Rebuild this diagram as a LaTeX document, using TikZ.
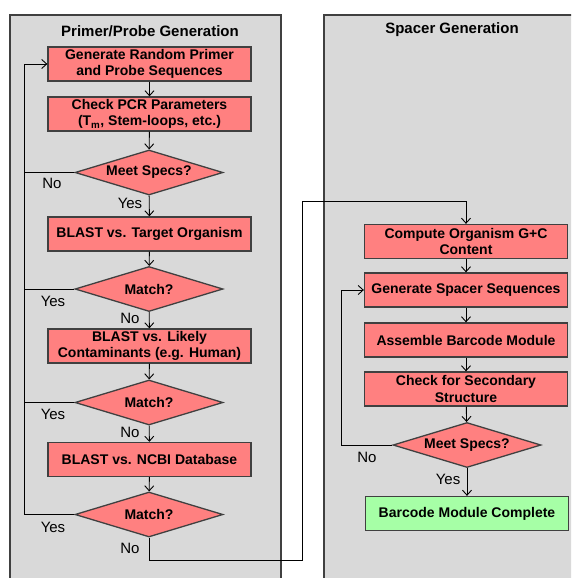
\documentclass[tikz,border=0pt]{standalone}
\usepackage{fontspec}
\setmainfont{Liberation Sans}
\usetikzlibrary{shapes.geometric,arrows.meta}
\definecolor{boxred}{HTML}{FF8080}
\definecolor{boxgreen}{HTML}{A6FFA6}
\definecolor{panelgray}{HTML}{D9D9D9}
\definecolor{edgegray}{HTML}{404040}
\tikzset{
  panel/.style={draw=edgegray, line width=1.3pt, fill=panelgray},
  ptitle/.style={font=\fontsize{15}{17}\selectfont\bfseries, inner sep=0pt},
  stepbox/.style={draw=edgegray, line width=1.3pt, fill=boxred, minimum width=203pt, minimum height=34pt, inner sep=1pt, align=center, font=\fontsize{14}{16.5}\selectfont\bfseries},
  endbox/.style={stepbox, fill=boxgreen},
  decide/.style={diamond, draw=edgegray, line width=1.3pt, fill=boxred, aspect=3.29, minimum width=148pt, minimum height=45pt, inner sep=0pt, font=\fontsize{14}{16.5}\selectfont\bfseries},
  lbl/.style={font=\fontsize{15}{17}\selectfont, inner sep=0pt},
  arr/.style={draw=black, line width=0.9pt, -{Straight Barb[length=5pt,width=9pt]}},
  ln/.style={draw=black, line width=0.9pt},
}
\begin{document}
\begin{tikzpicture}[x=1pt,y=-1pt]
\clip (0,0) rectangle (571,578);
\fill[white] (0,0) rectangle (571,578);
\draw[panel] (10,15) rectangle (281,600);
\draw[panel] (324,15) rectangle (600,600);
\node[ptitle] (t1) at (150,31) {Primer/Probe Generation};
\node[ptitle] (t2) at (452,30) {Spacer Generation};
% left column
\node[stepbox] (b1) at (149.5,64) {Generate Random Primer\\and Probe Sequences};
\node[stepbox] (b2) at (149.5,114) {Check PCR Parameters\\(T\textsubscript{m}, Stem-loops, etc.)};
\node[decide] (d1) at (149,172.5) {Meet Specs?};
\node[stepbox] (b3) at (149.5,234) {BLAST vs. Target Organism};
\node[decide] (d2) at (149,289) {Match?};
\node[stepbox] (b4) at (149.5,346) {BLAST vs. Likely\\Contaminants (e.g. Human)};
\node[decide] (d3) at (149,402.5) {Match?};
\node[stepbox] (b5) at (149.5,459.5) {BLAST vs. NCBI Database};
\node[decide] (d4) at (149,514.5) {Match?};
% right column
\node[stepbox] (b6) at (466,241.5) {Compute Organism G+C\\Content};
\node[stepbox] (b7) at (466,290) {Generate Spacer Sequences};
\node[stepbox] (b8) at (466,340) {Assemble Barcode Module};
\node[stepbox] (b9) at (466,389) {Check for Secondary\\Structure};
\node[decide] (d5) at (467,445) {Meet Specs?};
\node[endbox] (b10) at (467,513.5) {Barcode Module Complete};
% helper coordinates
\coordinate (lx) at (24,0);
\coordinate (p1) at (302,560);
\coordinate (p2) at (302,201);
\coordinate (p3) at (341,445);
% left arrows
\draw[arr] (b1) -- (b2);
\draw[arr] (b2) -- (d1);
\draw[arr] (d1) -- (b3);
\draw[arr] (b3) -- (d2);
\draw[arr] (d2) -- (b4);
\draw[arr] (b4) -- (d3);
\draw[arr] (d3) -- (b5);
\draw[arr] (b5) -- (d4);
\draw[arr] (d4.west) -- (d4.west -| lx) |- (b1.west);
\draw[ln] (d1.west) -- (d1.west -| lx);
\draw[ln] (d2.west) -- (d2.west -| lx);
\draw[ln] (d3.west) -- (d3.west -| lx);
\draw[arr] (d4.south) |- (p1) -- (p2) -| (b6.north);
% right arrows
\draw[arr] (b6) -- (b7);
\draw[arr] (b7) -- (b8);
\draw[arr] (b8) -- (b9);
\draw[arr] (b9) -- (d5);
\draw[arr] (d5) -- (b10);
\draw[arr] (d5.west) -- (p3) |- (b7.west);
% labels
\node[lbl] (n1) at (52,183) {No};
\node[lbl] (y1) at (130,203) {Yes};
\node[lbl] (y2) at (53,301) {Yes};
\node[lbl] (n2) at (130,318) {No};
\node[lbl] (y3) at (53,414) {Yes};
\node[lbl] (n3) at (130,432) {No};
\node[lbl] (y4) at (53,527) {Yes};
\node[lbl] (n4) at (130,548) {No};
\node[lbl] (n5) at (367,457) {No};
\node[lbl] (y5) at (448,479) {Yes};
\end{tikzpicture}
\end{document}
